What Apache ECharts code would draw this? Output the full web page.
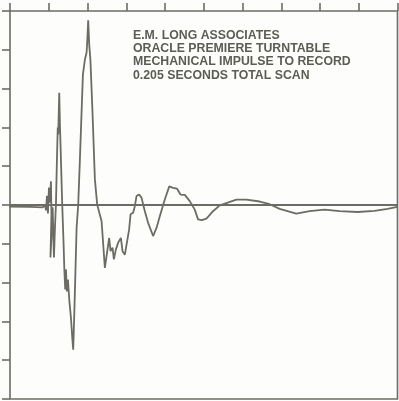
<!DOCTYPE html>
<html>
<head>
<meta charset="utf-8">
<script src="https://cdn.jsdelivr.net/npm/echarts@6/dist/echarts.min.js"></script>
<style>
html,body{margin:0;padding:0;background:#fdfdfb;}
#c{width:399px;height:401px;}
</style>
</head>
<body>
<div id="c"></div>
<script>
// time in ms over the 0.205 s scan, amplitude in screen divisions
var timeMs = [-4.7, 10.57, 17.44, 18.49, 19.02, 19.55, 20.08, 20.61, 21.13, 21.66, 21.93, 21.40, 22.19, 22.56, 22.98, 23.25, 23.78, 24.30, 24.83, 25.25, 25.52, 26.05, 26.42, 26.95, 27.63, 28.27, 28.79, 29.22, 29.59, 30.12, 30.64, 31.44, 32.23, 33.02, 33.44, 34.08, 35.24, 36.09, 36.98, 38.57, 39.63, 40.52, 40.84, 41.37, 41.90, 42.53, 43.59, 44.91, 46.13, 48.45, 50.19, 52.46, 53.20, 54.26, 54.95, 56.01, 57.22, 58.65, 59.54, 60.76, 61.66, 63.03, 63.77, 65.14, 66.04, 66.94, 68.31, 69.58, 71.33, 73.07, 75.71, 77.51, 79.25, 81.89, 84.27, 86.28, 88.39, 90.19, 92.46, 95.10, 97.74, 99.49, 101.44, 103.93, 107.41, 110.95, 115.17, 119.78, 125.06, 132.09, 137.37, 142.65, 151.47, 158.50, 166.43, 174.36, 183.87, 192.85, 199.72, 205];
var amplitude = [-0.04, -0.05, -0.06, 0.01, -0.14, 0.24, -0.22, 0.45, 0.06, 0.61, -0.24, -1.35, -0.58, -0.06, -0.89, -1.35, -0.58, 0.01, 1.17, 2.00, 1.82, 2.89, 2.07, 1.17, 0.01, -0.89, -1.71, -2.18, -1.66, -2.23, -1.92, -2.49, -2.90, -3.47, -3.73, -2.69, -0.58, 0.01, 1.17, 3.36, 3.75, 3.93, 4.19, 4.76, 4.14, 3.75, 2.46, 0.66, 0.01, -0.42, -1.62, -0.85, -1.19, -1.10, -1.40, -1.15, -0.97, -0.85, -1.19, -1.28, -1.02, -0.63, -0.24, -0.20, -0.03, 0.23, 0.27, 0.19, -0.16, -0.46, -0.80, -0.59, -0.29, 0.14, 0.48, 0.44, 0.42, 0.27, 0.26, 0.10, -0.12, -0.37, -0.39, -0.35, -0.16, -0.01, 0.06, 0.14, 0.14, 0.09, 0.02, -0.10, -0.22, -0.16, -0.12, -0.16, -0.18, -0.15, -0.10, -0.05];
var annotation = ['E.M. LONG ASSOCIATES', 'ORACLE PREMIERE TURNTABLE', 'MECHANICAL IMPULSE TO RECORD', '0.205 SECONDS TOTAL SCAN'];
var xMin = 0, xMax = 205, xStep = 20.5;
var yMin = -5, yMax = 5, yStep = 1;

var ink = '#6c6c64';
var pts = timeMs.map(function (t, i) { return [t, amplitude[i]]; });
var chart = echarts.init(document.getElementById('c'), null, {renderer: 'canvas'});
chart.setOption({
  animation: false,
  backgroundColor: '#fdfdfb',
  grid: {left: 10, top: 11, right: 1.5, bottom: 2, show: true, borderColor: ink, borderWidth: 1.6, backgroundColor: 'transparent'},
  xAxis: {
    type: 'value', min: xMin, max: xMax, interval: xStep, position: 'top',
    axisLine: {show: false, onZero: false},
    axisTick: {show: true, inside: false, length: 8, lineStyle: {color: ink, width: 1.6}},
    axisLabel: {show: false}, splitLine: {show: false}
  },
  yAxis: {
    type: 'value', min: yMin, max: yMax, interval: yStep, position: 'left',
    axisLine: {show: false, onZero: false},
    axisTick: {show: true, inside: false, length: 8, lineStyle: {color: ink, width: 1.6}},
    axisLabel: {show: false}, splitLine: {show: false}
  },
  series: [{
    type: 'line', data: pts, showSymbol: false, symbol: 'none', clip: false, smooth: false,
    lineStyle: {color: ink, width: 1.8},
    markLine: {
      silent: true, symbol: ['none', 'none'], label: {show: false},
      lineStyle: {type: 'solid', color: ink, width: 1.8},
      data: [{yAxis: 0}]
    }
  }],
  graphic: [{
    type: 'text', left: 133, top: 29,
    style: {
      text: annotation.join('\n'),
      font: 'bold 12.3px "Liberation Sans", Arial, sans-serif',
      lineHeight: 13.2, fill: '#5c5c55'
    }
  }]
});
</script>
</body>
</html>
